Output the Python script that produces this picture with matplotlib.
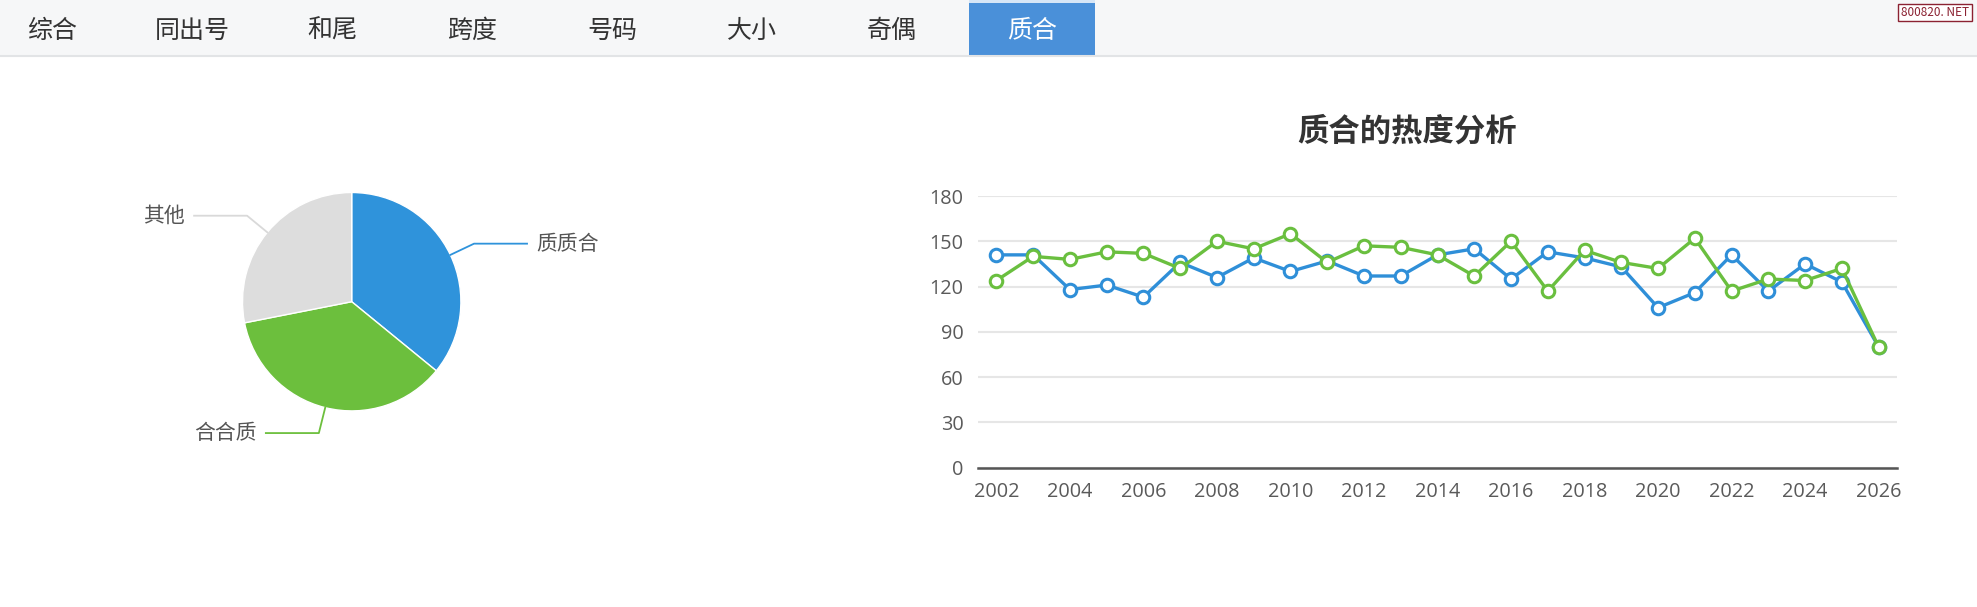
import numpy as np
import matplotlib
matplotlib.use("Agg")
import matplotlib.pyplot as plt
from matplotlib.patches import Rectangle

plt.rcParams['font.family'] = ['Noto Sans CJK SC', 'DejaVu Sans']

# Tabs across the top
TABS = ["综合", "同出号", "和尾", "跨度", "号码", "大小", "奇偶", "质合"]
ACTIVE_TAB = "质合"

# Pie data
PIE_LABELS = ["质质合", "合合质", "其他"]
PIE_VALUES = [35.9, 36.0, 28.1]
PIE_COLORS = ["#2f93db", "#6cbf3d", "#dddddd"]

# Line chart data
YEARS = [2002, 2003, 2004, 2005, 2006, 2007, 2008, 2009, 2010, 2011, 2012, 2013,
         2014, 2015, 2016, 2017, 2018, 2019, 2020, 2021, 2022, 2023, 2024, 2025, 2026]
BLUE_VALUES = [141, 141, 118, 121, 113, 136, 126, 139, 130, 137, 127, 127,
               141, 145, 125, 143, 139, 133, 106, 116, 141, 117, 135, 123, 80]
GREEN_VALUES = [124, 140, 138, 143, 142, 132, 150, 145, 155, 136, 147, 146,
                141, 127, 150, 117, 144, 136, 132, 152, 117, 125, 124, 132, 80]
LINE_TITLE = "质合的热度分析"
Y_TICKS = [0, 30, 60, 90, 120, 150, 180]
X_TICKS = [2002, 2004, 2006, 2008, 2010, 2012, 2014, 2016, 2018, 2020, 2022, 2024, 2026]

W, H = 1977, 607
fig = plt.figure(figsize=(W / 100, H / 100), dpi=100)
fig.patch.set_facecolor("white")


def px(x, y):
    """pixel coords (top-left origin) -> figure fraction"""
    return x / W, 1 - y / H


# ---- tab bar ----
bg = fig.add_axes([0, 0, 1, 1], zorder=-5)
bg.set_xlim(0, W)
bg.set_ylim(H, 0)
bg.axis("off")
bg.add_patch(Rectangle((0, 0), W, 55, facecolor="#f6f7f8", edgecolor="none"))
bg.plot([0, W], [55.5, 55.5], color="#e2e4e6", lw=1.5)
tab_x0, tab_step = 52, 140
for i, name in enumerate(TABS):
    cx = tab_x0 + i * tab_step
    if name == ACTIVE_TAB:
        cx = 1032
        bg.add_patch(Rectangle((969, 3), 126, 53, facecolor="#4a90d9", edgecolor="none"))
        bg.add_patch(Rectangle((969, 0), 126, 3, facecolor="#d6e6f7", edgecolor="none"))
        bg.text(cx, 31, name, color="white", fontsize=18, ha="center", va="center")
    else:
        bg.text(cx, 31, name, color="#333333", fontsize=18, ha="center", va="center")

# watermark
bg.add_patch(Rectangle((1898, 4), 74, 17, facecolor="white", edgecolor="#8b2232", lw=1))
bg.text(1935, 12.5, "800820. NET", color="#8b2232", fontsize=8.5, ha="center", va="center")

# ---- pie ----
cx, cy, rad = 351.7, 301.7, 109.2
l, b = px(cx - rad, cy + rad)
pax = fig.add_axes([l, b, 2 * rad / W, 2 * rad / H])
wedges, _ = pax.pie(PIE_VALUES, colors=PIE_COLORS, startangle=90, counterclock=False,
                    wedgeprops=dict(edgecolor="white", linewidth=1))
pax.set_aspect("auto")
pax.set_xlim(-1, 1)
pax.set_ylim(-1, 1)
pax.axis("off")

hx = 53 / rad
gap = 9 / rad
for w, lab, col in zip(wedges, PIE_LABELS, PIE_COLORS):
    ang = np.deg2rad((w.theta1 + w.theta2) / 2)
    ex, ey = np.cos(ang), np.sin(ang)
    kx, ky = 1.24 * ex, 1.24 * ey
    side = 1 if ex > 0 else -1
    tx = kx + side * hx
    lc = "#d9d9d9" if col == "#dddddd" else col
    pax.plot([ex, kx, tx], [ey, ky, ky], color=lc, lw=1.3, clip_on=False)
    pax.text(tx + side * gap, ky, lab, fontsize=15, color="#555555",
             ha="left" if side > 0 else "right", va="center")

# ---- line chart ----
l, b = px(978, 467.7)
r, t = px(1897, 196)
ax = fig.add_axes([l, b, r - l, t - b])
ax.plot(YEARS, BLUE_VALUES, color="#2f8fd8", lw=2.4, marker="o", markersize=9,
        markerfacecolor="white", markeredgewidth=2.2, zorder=3)
ax.plot(YEARS, GREEN_VALUES, color="#6abf3f", lw=2.4, marker="o", markersize=9,
        markerfacecolor="white", markeredgewidth=2.2, zorder=4)
ax.set_xlim(2001.5, 2026.5)
ax.set_ylim(0, 180)
ax.set_yticks(Y_TICKS)
ax.set_xticks(X_TICKS)
ax.yaxis.grid(True, color="#e6e6e6", lw=1.5)
ax.set_axisbelow(True)
for s in ["top", "right", "left"]:
    ax.spines[s].set_visible(False)
ax.spines["bottom"].set_color("#555555")
ax.spines["bottom"].set_linewidth(1.8)
ax.tick_params(axis="both", length=0, labelsize=14.3, colors="#5a5a5a")
for lbl in ax.get_xticklabels() + ax.get_yticklabels():
    lbl.set_family(["Open Sans", "DejaVu Sans"])
ax.tick_params(axis="y", pad=10.4)
ax.tick_params(axis="x", pad=10.5)

tx, ty = px(1406.7, 131.7)
fig.text(tx, ty, LINE_TITLE, fontsize=22.6, fontweight="bold", color="#333333",
         ha="center", va="center")

fig.savefig("out.png", dpi=100, facecolor="white")
